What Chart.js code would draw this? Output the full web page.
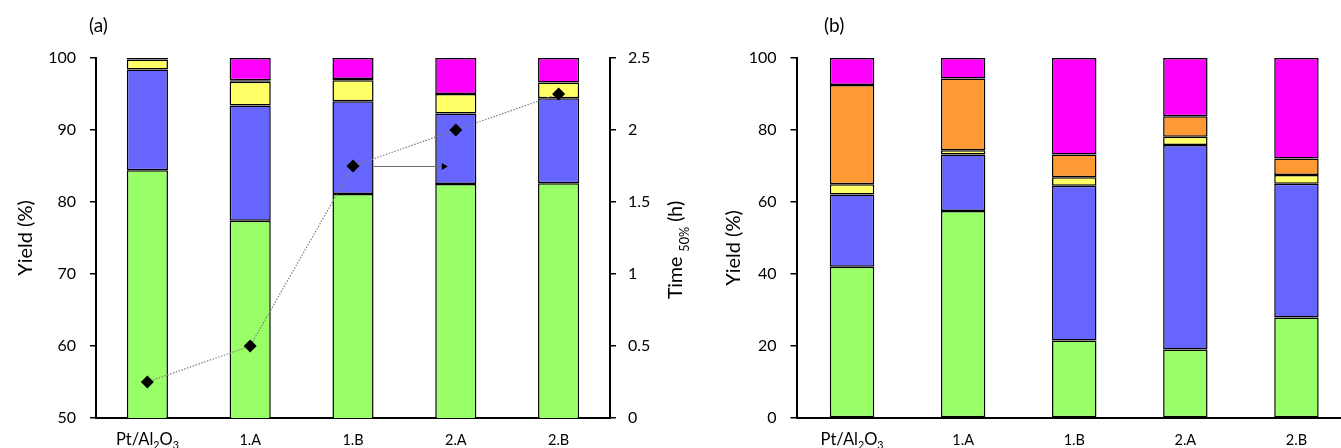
<!DOCTYPE html>
<html>
<head>
<meta charset="utf-8">
<script src="https://cdn.jsdelivr.net/npm/chart.js@4.4.1/dist/chart.umd.min.js"></script>
<style>
  html, body { margin: 0; padding: 0; background: #fff; overflow: hidden; width: 1341px; height: 448px; }
  #wrapA { position: absolute; left: 0; top: 0; width: 700px; height: 448px; }
  #wrapB { position: absolute; left: 700px; top: 0; width: 660px; height: 448px; }
  .panel { position: absolute; top: 13px; font-family: Lato, "Open Sans", sans-serif; font-size: 19px; line-height: 24px; color: #000; }
</style>
</head>
<body>
<div id="wrapA"><canvas id="chartA" width="700" height="448"></canvas></div>
<div id="wrapB"><canvas id="chartB" width="660" height="448"></canvas></div>
<div class="panel" style="left:89px">(a)</div>
<div class="panel" style="left:824px">(b)</div>
<script>
// Catalysts on the category axis
const categories = ['Pt/Al2O3', '1.A', '1.B', '2.A', '2.B'];

// Panel (a): product yields (%), stacked bottom to top
const aProduct1 = [84.4, 77.4, 81.1, 82.5, 82.6];
const aProduct2 = [14.0, 16.0, 12.9, 9.8, 11.8];
const aProduct3 = [1.4, 3.3, 2.9, 2.7, 2.2];
const aProduct4 = [0.0, 0.2, 0.2, 0.0, 0.0];
const aProduct5 = [0.2, 3.1, 2.9, 5.0, 3.4];
// Panel (a): time to 50 % conversion (h)
const aTime50 = [0.25, 0.5, 1.75, 2.0, 2.25];

// Panel (b): product yields (%), stacked bottom to top
const bProduct1 = [42.0, 57.5, 21.5, 19.0, 27.9];
const bProduct2 = [20.1, 15.7, 43.0, 56.8, 37.2];
const bProduct3 = [2.8, 1.2, 2.4, 2.3, 2.4];
const bProduct4 = [27.6, 19.9, 6.3, 5.7, 4.6];
const bProduct5 = [7.5, 5.7, 26.8, 16.2, 27.9];

// Axis ranges and tick steps
const aYieldTicks = { min: 50, max: 100, step: 10 };
const aTimeTicks = { min: 0, max: 2.5, step: 0.5 };
const bYieldTicks = { min: 0, max: 100, step: 20 };

// ---- styling ----
const FONT = 'Lato, "Open Sans", sans-serif';
const PALETTE = ['#99FF66', '#6666FF', '#FFFF66', '#FF9933', '#FF00FF'];

function barSets(seriesList) {
  return seriesList.map((data, i) => ({
    type: 'bar',
    label: 'Product ' + (i + 1),
    data: data,
    backgroundColor: PALETTE[i],
    borderColor: '#000',
    borderWidth: 1.5,
    borderSkipped: false,
    barPercentage: 0.4,
    categoryPercentage: 1.0,
    yAxisID: 'y',
    order: 1
  }));
}

// split "Pt/Al2O3" into normal / subscript runs (digits after a letter are subscripts)
function richParts(label) {
  return label.split(/(?<=[A-Za-z])(\d+)/).filter((t, i) => t !== '' || i % 2)
    .map((t, i) => ({ t: t, sub: i % 2 === 1 }));
}

function drawRich(ctx, parts, x, y, size, align) {
  const subSize = size * 0.65;
  const fontOf = (p) => (p.sub ? subSize : size) + 'px ' + FONT;
  let total = 0;
  parts.forEach((p) => { ctx.font = fontOf(p); total += ctx.measureText(p.t).width; });
  let cx = align === 'center' ? x - total / 2 : x;
  ctx.textAlign = 'left';
  ctx.textBaseline = 'alphabetic';
  parts.forEach((p) => {
    ctx.font = fontOf(p);
    ctx.fillText(p.t, cx, p.sub ? y + size * 0.22 : y);
    cx += ctx.measureText(p.t).width;
  });
}

function drawVerticalRich(ctx, parts, baselineX, centerY, size, subShift) {
  ctx.save();
  const subSize = size * 0.65;
  const fontOf = (p) => (p.sub ? subSize : size) + 'px ' + FONT;
  let total = 0;
  parts.forEach((p) => { ctx.font = fontOf(p); total += ctx.measureText(p.t).width; });
  ctx.translate(baselineX, centerY);
  ctx.rotate(-Math.PI / 2);
  ctx.fillStyle = '#000';
  ctx.textAlign = 'left';
  ctx.textBaseline = 'alphabetic';
  let cx = -total / 2;
  parts.forEach((p) => {
    ctx.font = fontOf(p);
    ctx.fillText(p.t, cx, p.sub ? subShift : 0);
    cx += ctx.measureText(p.t).width;
  });
  ctx.restore();
}

// category labels under the x axis, with chemical subscripts
const categoryLabels = {
  id: 'categoryLabels',
  afterDraw(chart) {
    const { ctx, scales: { x } } = chart;
    ctx.save();
    ctx.fillStyle = '#000';
    x.ticks.forEach((tick, i) => {
      const parts = richParts(categories[i]);
      const size = parts.some((p) => p.sub) ? 16.5 : 14.5;
      drawRich(ctx, parts, x.getPixelForTick(i), 445, size, 'center');
    });
    ctx.restore();
  }
};

function axisTitles(titles) {
  return {
    id: 'axisTitles',
    afterDraw(chart) {
      titles.forEach((t) => drawVerticalRich(chart.ctx, t.parts, t.x, t.y, t.size, t.subShift || 0));
    }
  };
}

// arrow pointing from the 1.B time marker towards 2.A
const timeArrow = {
  id: 'timeArrow',
  afterDatasetsDraw(chart) {
    const { ctx, scales: { x, y1 } } = chart;
    const bar = chart.getDatasetMeta(1).data[2];
    const x0 = bar.x + bar.width / 2;
    const x1 = x.getPixelForValue(3) - 8;
    const yy = Math.round(y1.getPixelForValue(aTime50[2])) + 0.5;
    ctx.save();
    ctx.strokeStyle = '#6f6f6f';
    ctx.lineWidth = 1;
    ctx.beginPath();
    ctx.moveTo(x0, yy);
    ctx.lineTo(x1 - 5, yy);
    ctx.stroke();
    ctx.fillStyle = '#000';
    ctx.beginPath();
    ctx.moveTo(x1, yy);
    ctx.lineTo(x1 - 6, yy - 3.5);
    ctx.lineTo(x1 - 6, yy + 3.5);
    ctx.closePath();
    ctx.fill();
    ctx.restore();
  }
};

function yAxis(t, pos, width, pad) {
  return {
    position: pos,
    stacked: pos === 'left',
    min: t.min, max: t.max,
    ticks: {
      stepSize: t.step, color: '#000', font: { family: FONT, size: 16 }, padding: pad,
      callback: (v) => String(Math.round(v * 100) / 100)
    },
    grid: { drawOnChartArea: false, drawTicks: true, tickLength: 6, color: '#000', lineWidth: 1.5 },
    border: { display: true, color: '#000', width: 2 },
    afterFit(s) { s.width = width; }
  };
}

const xAxis = {
  stacked: true,
  offset: true,
  grid: { display: false },
  border: { display: true, color: '#000', width: 2 },
  ticks: { display: false },
  afterFit(s) { s.height = 30; }
};

const common = {
  responsive: false,
  animation: false,
  plugins: { legend: { display: false }, tooltip: { enabled: false } }
};

new Chart(document.getElementById('chartA'), {
  data: {
    labels: categories,
    datasets: [
      {
        type: 'line',
        label: 'Time 50%',
        data: aTime50,
        yAxisID: 'y1',
        order: 0,
        borderColor: '#808080',
        borderWidth: 1.2,
        borderDash: [1.5, 1.5],
        pointStyle: 'rectRot',
        pointRadius: 6.5,
        pointBackgroundColor: '#000',
        pointBorderColor: '#000',
        pointBorderWidth: 0,
        tension: 0
      },
      ...barSets([aProduct1, aProduct2, aProduct3, aProduct4, aProduct5])
    ]
  },
  options: {
    ...common,
    layout: { padding: { top: 58, left: 0, right: 0, bottom: 0 } },
    scales: {
      x: xAxis,
      y: yAxis(aYieldTicks, 'left', 96, 14),
      y1: yAxis(aTimeTicks, 'right', 90, 12)
    }
  },
  plugins: [categoryLabels, timeArrow, axisTitles([
    { parts: [{ t: 'Yield (%)' }], x: 32, y: 238, size: 20 },
    { parts: [{ t: 'Time ' }, { t: '50%', sub: true }, { t: ' (h)' }], x: 682, y: 250, size: 19.5, subShift: 7 }
  ])]
});

new Chart(document.getElementById('chartB'), {
  data: {
    labels: categories,
    datasets: barSets([bProduct1, bProduct2, bProduct3, bProduct4, bProduct5])
  },
  options: {
    ...common,
    layout: { padding: { top: 58, left: 0, right: 8, bottom: 0 } },
    scales: {
      x: xAxis,
      y: yAxis(bYieldTicks, 'left', 96.5, 14)
    }
  },
  plugins: [categoryLabels, axisTitles([
    { parts: [{ t: 'Yield (%)' }], x: 40, y: 248, size: 20 }
  ])]
});
</script>
</body>
</html>
